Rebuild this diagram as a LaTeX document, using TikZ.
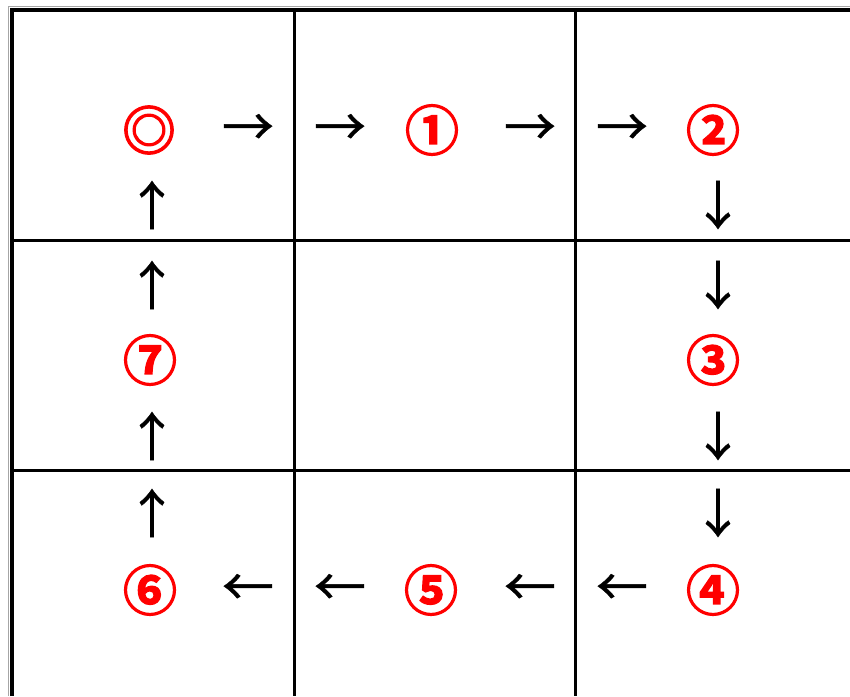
\documentclass[tikz,border=0pt]{standalone}
\usepackage{fontspec}
\newfontfamily\cjkb[FakeBold=2.2]{Noto Sans CJK JP Bold}
\newfontfamily\cjk[FakeBold=0.8]{Noto Sans CJK JP}
\begin{document}
\begin{tikzpicture}[x=1pt,y=-1pt,
  num/.style={inner sep=0pt,text=red,font=\cjkb\fontsize{54}{54}\selectfont},
  arr/.style={inner sep=0pt,text=black,font=\cjk\fontsize{52}{52}\selectfont},
  grid/.style={line width=3.5pt,black},
  shadow/.style={line width=1.2pt,black!35}]
\useasboundingbox (0,0) rectangle (850,696);
% outer border
\draw[shadow] (8.5,696) -- (8.5,6.5) -- (850,6.5);
\draw[grid,line width=4pt] (12,696) -- (12,10) -- (850,10);
% inner grid
\draw[grid] (294.5,10) -- (294.5,696);
\draw[grid] (575.5,10) -- (575.5,696);
\draw[grid,line width=3pt] (12,240) -- (850,240);
\draw[grid,line width=3pt] (12,470) -- (850,470);
% circled marks
\node[num] (s) at (149,130) {◎};
\node[num] (n1) at (432,130) {①};
\node[num] (n2) at (713,130) {②};
\node[num] (n3) at (713,360) {③};
\node[num] (n4) at (713,590) {④};
\node[num] (n5) at (431,590) {⑤};
\node[num] (n6) at (150,590) {⑥};
\node[num] (n7) at (150,360) {⑦};
% arrows
\node[arr] (a1) at (248,130) {→};
\node[arr] (a2) at (340,130) {→};
\node[arr] (a3) at (530,130) {→};
\node[arr] (a4) at (622,130) {→};
\node[arr] (a5) at (718,205) {↓};
\node[arr] (a6) at (718,285) {↓};
\node[arr] (a7) at (718,436) {↓};
\node[arr] (a8) at (718,513) {↓};
\node[arr] (a9) at (622,590) {←};
\node[arr] (a10) at (530,590) {←};
\node[arr] (a11) at (340,590) {←};
\node[arr] (a12) at (248,590) {←};
\node[arr] (a13) at (152,513) {↑};
\node[arr] (a14) at (152,436) {↑};
\node[arr] (a15) at (152,285) {↑};
\node[arr] (a16) at (152,205) {↑};
\end{tikzpicture}
\end{document}
